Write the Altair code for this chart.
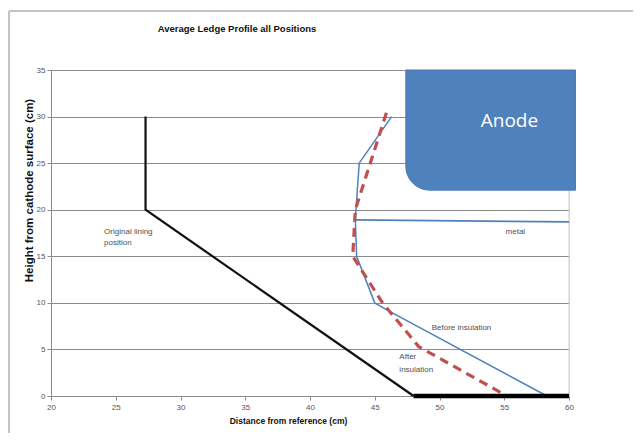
import altair as alt
import pandas as pd

# ---- data ----
lining_x = [27.3, 27.3, 48.0]
lining_y = [30.0, 20.0, 0.0]
floor_x = [48.0, 60.0]
floor_y = [0.0, 0.0]
before_x = [46.3, 43.8, 43.5, 43.6, 45.0, 46.0, 58.3]
before_y = [30.0, 25.0, 19.0, 15.0, 10.0, 9.2, 0.0]
after_x = [45.9, 43.5, 43.3, 45.6, 48.4, 55.2]
after_y = [30.4, 20.0, 15.0, 10.0, 5.3, 0.0]
metal_x = [43.5, 60.0]
metal_y = [18.9, 18.7]
anode_x = [47.4]
anode_x2 = [60.5]
anode_y = [22.1]
anode_y2 = [35.0]

ann_text = ["Original lining", "position", "metal", "Before insulation", "After", "insulation"]
ann_x = [24.1, 24.1, 55.1, 49.4, 46.9, 46.9]
ann_y = [17.6, 16.4, 17.6, 7.3, 4.2, 2.8]

x_ticks = [20, 25, 30, 35, 40, 45, 50, 55, 60]
y_ticks = [0, 5, 10, 15, 20, 25, 30, 35]

X = alt.Scale(domain=[20, 60], nice=False, zero=False)
Y = alt.Scale(domain=[0, 35], nice=False, zero=False)

def line_df(xs, ys):
    return pd.DataFrame({"x": xs, "y": ys, "i": list(range(len(xs)))})

GRID = "#8c8c8c"

base_x = alt.X("x:Q", scale=X, axis=alt.Axis(
    values=x_ticks, title="Distance from reference (cm)", grid=False,
    domainColor="#8c8c8c", tickColor="#8c8c8c", tickSize=4, labelPadding=3,
    labelFlush=False,
    labelColor="#555555", labelFontSize=8, labelFont="Liberation Sans",
    titleFont="Liberation Sans", titleFontSize=8.5, titleFontWeight="bold",
    titleColor="#111111", titlePadding=5, titleX=237))
base_y = alt.Y("y:Q", scale=Y, axis=alt.Axis(
    values=y_ticks, title="Height  from cathode surface (cm)", grid=True,
    labelFlush=False,
    gridColor=GRID, gridWidth=1, domainColor="#8c8c8c", tickColor="#8c8c8c",
    tickSize=4, labelPadding=2, labelColor="#555555", labelFontSize=8,
    labelFont="Liberation Sans", titleFont="Liberation Sans", titleFontSize=11.5,
    titleFontWeight="bold", titleColor="#111111", titlePadding=2, titleY=120))

grid_layer = alt.Chart(line_df(lining_x, lining_y)).mark_line(opacity=0).encode(
    x=base_x, y=base_y)

lining = alt.Chart(line_df(lining_x, lining_y)).mark_line(
    color="#111111", strokeWidth=2.2).encode(x="x:Q", y="y:Q", order="i:Q")
floor = alt.Chart(line_df(floor_x, floor_y)).mark_line(
    color="#000000", strokeWidth=4.5).encode(x="x:Q", y="y:Q", order="i:Q")
before = alt.Chart(line_df(before_x, before_y)).mark_line(
    color="#4F81BD", strokeWidth=1.5).encode(x="x:Q", y="y:Q", order="i:Q")
metal = alt.Chart(line_df(metal_x, metal_y)).mark_line(
    color="#4F81BD", strokeWidth=1.8).encode(x="x:Q", y="y:Q", order="i:Q")
after = alt.Chart(line_df(after_x, after_y)).mark_line(
    color="#C0504D", strokeWidth=3.2, strokeDash=[9, 6]).encode(
    x="x:Q", y="y:Q", order="i:Q")

anode_df = pd.DataFrame({"x": anode_x, "x2": anode_x2, "y": anode_y, "y2": anode_y2,
                         "label": ["Anode"]})
anode = alt.Chart(anode_df).mark_rect(
    color="#4F81BD", cornerRadiusBottomLeft=24, stroke="#4A7AB5", strokeWidth=1).encode(
    x="x:Q", x2="x2:Q", y="y:Q", y2="y2:Q")
anode_text = alt.Chart(pd.DataFrame({"x": [55.4], "y": [29.5], "t": ["Anode"]})).mark_text(
    color="white", fontSize=19, font="Open Sans", align="center", baseline="middle").encode(
    x="x:Q", y="y:Q", text="t:N")

ann_df = pd.DataFrame({"x": ann_x, "y": ann_y, "t": ann_text})
ann = alt.Chart(ann_df).mark_text(
    color="#505050", fontSize=8, font="Liberation Sans", align="left", baseline="middle").encode(
    x="x:Q", y="y:Q", text="t:N")

title = alt.Chart(pd.DataFrame({"t": ["Average Ledge Profile all Positions"]})).mark_text(
    fontSize=9.5, fontWeight="bold", font="Liberation Sans", color="#111111",
    align="center", baseline="middle").encode(
    x=alt.value(186), y=alt.value(-41), text="t:N")

one = pd.DataFrame({"a": [0]})
frame_top = alt.Chart(one).mark_rule(color="#c4c4c4", strokeWidth=2).encode(
    x=alt.value(-42), x2=alt.value(600), y=alt.value(-59))
frame_left = alt.Chart(one).mark_rule(color="#c4c4c4", strokeWidth=2).encode(
    x=alt.value(-42), y=alt.value(-59), y2=alt.value(380))
right_edge = alt.Chart(one).mark_rule(color="#d0d0d0", strokeWidth=1).encode(
    x=alt.value(518), y=alt.value(0), y2=alt.value(326))

chart = alt.layer(
    grid_layer, right_edge, frame_top, frame_left, lining, before, metal, after,
    floor, anode, anode_text, ann, title
).properties(
    width=518, height=326,
    autosize=alt.AutoSizeParams(type="none"),
    padding={"left": 43, "top": 62, "right": 64, "bottom": 37},
).configure_view(stroke=None).configure(background="white")

chart.save("out.html", embed_options={"renderer": "svg", "actions": False})
